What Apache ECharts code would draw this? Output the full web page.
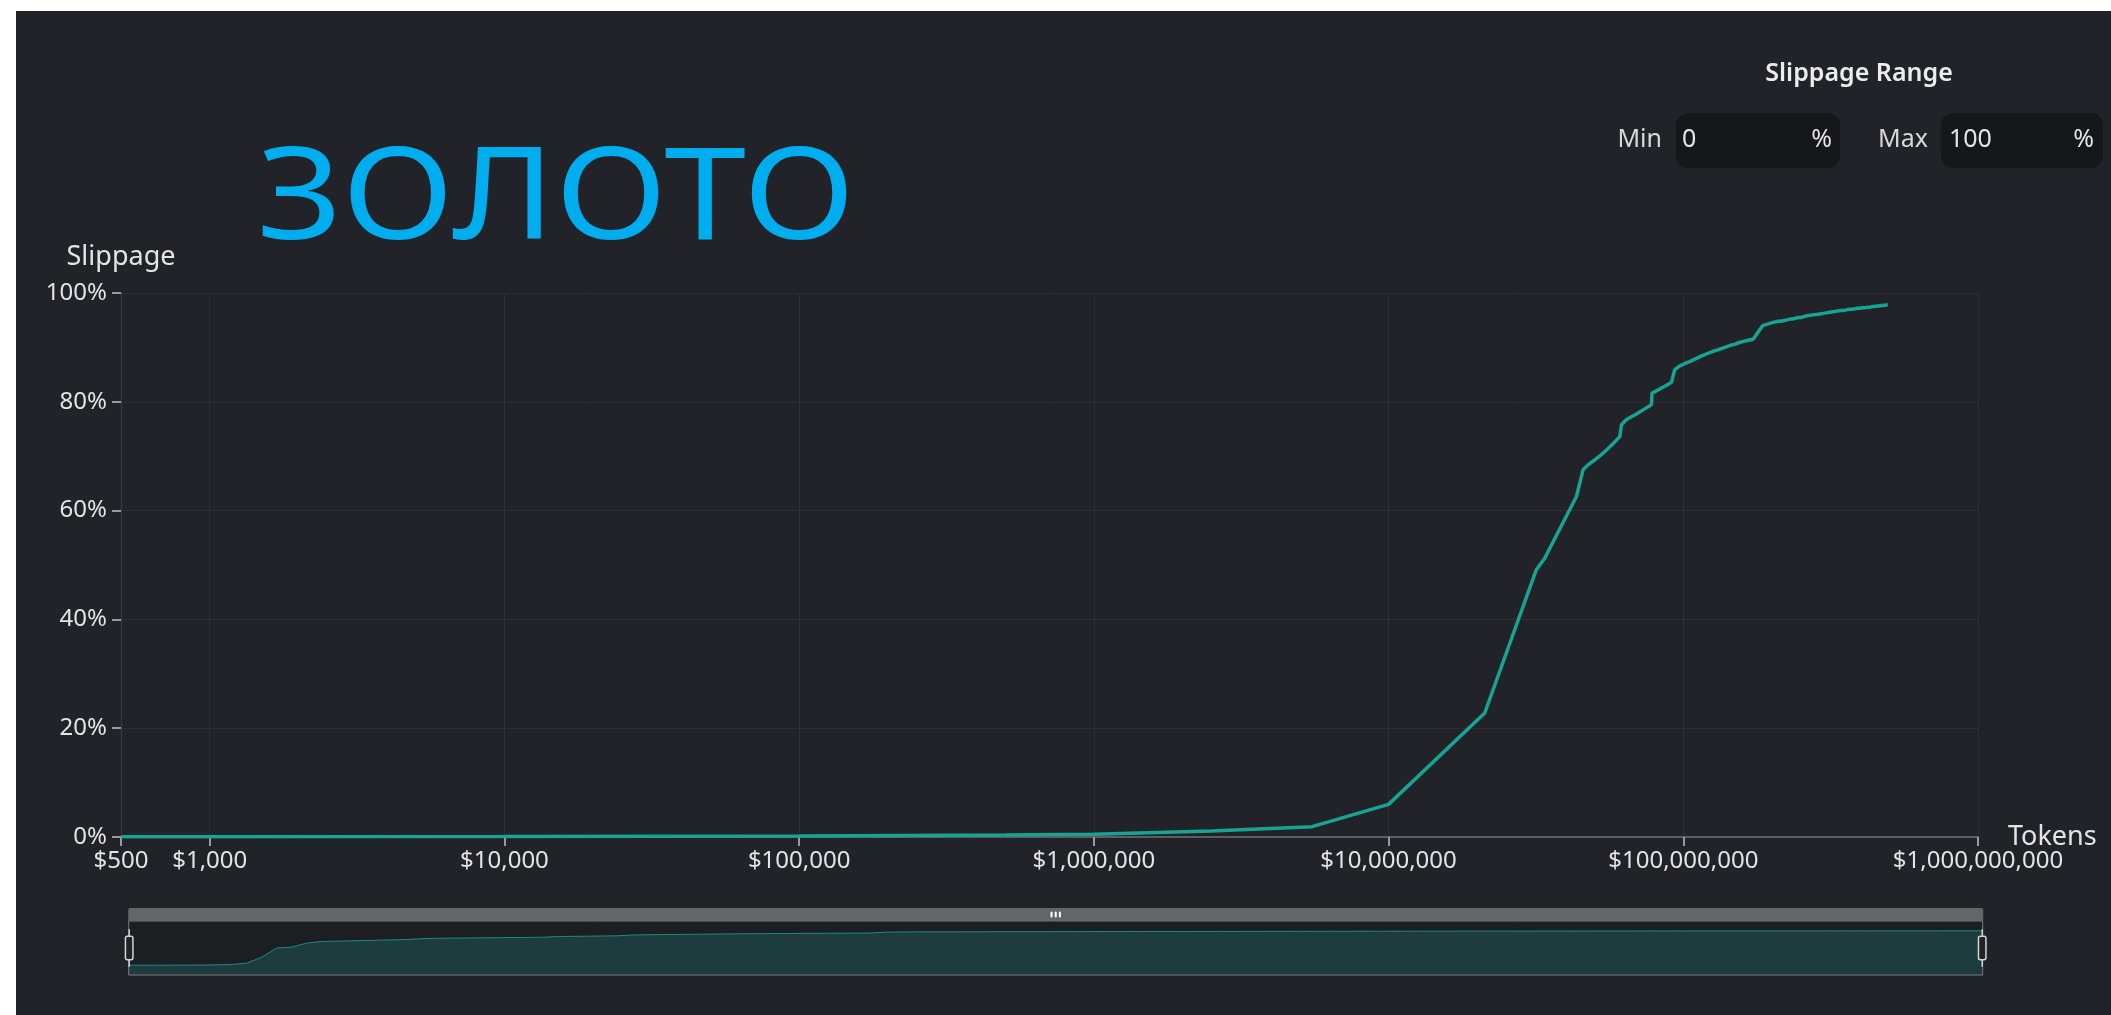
<!DOCTYPE html>
<html>
<head>
<meta charset="utf-8">
<title>ЗОЛОТО slippage</title>
<script src="https://cdn.jsdelivr.net/npm/echarts@6/dist/echarts.min.js"></script>
<style>
  html, body { margin: 0; padding: 0; background: #ffffff; width: 2111px; height: 1015px; overflow: hidden; }
  #chart { position: absolute; left: 16px; top: 11px; width: 2095px; height: 1004px; background: #222328; }
</style>
</head>
<body>
<div id="chart"></div>
<script>
// trade size in $ (x, log scale)
const tokens = [
  500, 1000, 10000, 100000, 500000, 1000000, 2500000, 5500000,
  10000000, 21200000, 31700000, 33900000, 43400000, 45700000, 47500000,
  50000000, 52500000, 55000000, 57500000, 60900000, 61700000, 64100000,
  66000000, 68000000, 70000000, 72000000, 74000000, 76000000, 78000000, 78300000,
  81000000, 84000000, 87500000, 91200000, 93500000, 97300000,
  101000000, 105000000, 110000000, 115000000, 120000000, 125000000, 130000000,
  135000000, 140000000, 145000000, 150000000, 155000000, 160000000, 166000000, 172600000,
  185800000, 201900000,
  206000000, 210000000, 214000000, 218000000, 222000000, 226000000, 230000000, 234000000,
  238000000, 242000000, 246000000, 250000000, 254000000, 258000000, 262000000, 266000000,
  270000000, 274000000, 278000000, 282000000, 286000000, 290000000, 294000000, 298000000,
  302000000, 306000000, 310000000, 314000000, 318000000, 322000000, 326000000, 330000000,
  334000000, 338000000, 342000000, 346000000, 350000000, 354000000, 358000000, 362000000,
  366000000, 370000000, 374000000, 378000000, 382000000, 386000000, 390000000, 394000000,
  398000000, 402000000, 406000000, 410000000, 414000000, 418000000, 422000000, 426000000,
  430000000, 434000000, 438000000, 442000000, 446000000, 450000000, 454000000, 458000000,
  462000000, 466000000, 470000000, 474000000, 478000000, 482000000, 486000000, 490000000,
  494000000
];

// slippage in %
const slippage = [
  0.05, 0.06, 0.1, 0.2, 0.35, 0.5, 1.1, 1.9,
  6.0, 22.8, 49.1, 51.3, 62.6, 67.5, 68.4,
  69.3, 70.2, 71.2, 72.2, 73.6, 75.8, 76.7,
  77.1, 77.5, 77.9, 78.3, 78.7, 79.1, 79.5, 81.6,
  82.0, 82.5, 83.0, 83.6, 85.9, 86.6,
  87.0, 87.4, 87.9, 88.4, 88.8, 89.2, 89.5,
  89.8, 90.1, 90.4, 90.6, 90.9, 91.1, 91.3, 91.5,
  94.0, 94.6,
  94.7, 94.8, 94.8, 94.9, 95.0, 95.1, 95.2, 95.2,
  95.3, 95.4, 95.5, 95.5, 95.6, 95.7, 95.8, 95.8,
  95.9, 95.9, 96.0, 96.0, 96.1, 96.1, 96.2, 96.2,
  96.3, 96.3, 96.4, 96.4, 96.5, 96.5, 96.6, 96.6,
  96.7, 96.7, 96.8, 96.8, 96.8, 96.9, 96.9, 96.9,
  97.0, 97.0, 97.0, 97.1, 97.1, 97.1, 97.2, 97.2,
  97.2, 97.3, 97.3, 97.3, 97.3, 97.4, 97.4, 97.4,
  97.4, 97.5, 97.5, 97.5, 97.5, 97.6, 97.6, 97.6,
  97.6, 97.7, 97.7, 97.7, 97.7, 97.7, 97.8, 97.8,
  97.8
];

const titleText = 'ЗОЛОТО';
const rangeTitle = 'Slippage Range';
const rangeMin = '0';
const rangeMax = '100';

const FONT = 'Noto Sans';
const LABEL = '#e4e4e6';
const GRID_LINE = '#2e2f35';

const chart = echarts.init(document.getElementById('chart'));

chart.setOption({
  backgroundColor: '#222328',
  animation: false,
  textStyle: { fontFamily: FONT },
  grid: { left: 105, right: 133, top: 282, bottom: 178, containLabel: false, outerBoundsMode: 'none' },
  xAxis: {
    type: 'log',
    logBase: 10,
    min: 500,
    max: 1000000000,
    name: 'Tokens',
    nameLocation: 'end',
    nameGap: 30,
    nameMoveOverlap: false,
    nameTextStyle: { color: LABEL, fontSize: 27, fontFamily: FONT },
    axisLine: { lineStyle: { color: '#5c5d63', width: 2 } },
    axisTick: { show: true, length: 9, lineStyle: { color: '#9a9a9e', width: 2 } },
    minorTick: { show: false },
    axisLabel: {
      color: LABEL, fontSize: 24, fontFamily: FONT, margin: 12,
      showMinLabel: true, showMaxLabel: true,
      formatter: v => '$' + Math.round(v).toLocaleString('en-US')
    },
    splitLine: { show: true, lineStyle: { color: GRID_LINE, width: 1 } }
  },
  yAxis: {
    type: 'value',
    min: 0,
    max: 100,
    interval: 20,
    name: 'Slippage',
    nameLocation: 'end',
    nameGap: 22,
    nameMoveOverlap: false,
    nameTextStyle: { color: LABEL, fontSize: 27, fontFamily: FONT },
    axisLine: { show: true, lineStyle: { color: '#3b3c42', width: 1 } },
    axisTick: { show: true, length: 9, lineStyle: { color: '#9a9a9e', width: 2 } },
    axisLabel: { color: LABEL, fontSize: 24, fontFamily: FONT, margin: 14, formatter: '{value}%' },
    splitLine: { show: true, lineStyle: { color: GRID_LINE, width: 1 } }
  },
  dataZoom: [{
    type: 'slider',
    xAxisIndex: 0,
    filterMode: 'none',
    start: 0,
    end: 100,
    left: 107,
    right: 133,
    top: 897,
    height: 55,
    showDetail: false,
    brushSelect: true,
    showDataShadow: true,
    backgroundColor: '#1d1e22',
    borderColor: '#7a7b80',
    borderRadius: 0,
    fillerColor: 'rgba(0,0,0,0)',
    handleSize: '68%',
    handleStyle: { color: '#222328', borderColor: '#d4d4d6', borderWidth: 1.5 },
    moveHandleSize: 13,
    moveHandleStyle: { color: '#646569', opacity: 1 },
    dataBackground: {
      lineStyle: { color: '#1a8c80', width: 1, opacity: 1 },
      areaStyle: { color: '#1e3b3e', opacity: 1 }
    },
    selectedDataBackground: {
      lineStyle: { color: '#1a8c80', width: 1, opacity: 1 },
      areaStyle: { color: '#1e3b3e', opacity: 1 }
    }
  }],
  series: [{
    type: 'line',
    data: tokens.map((t, i) => [t, slippage[i]]),
    showSymbol: false,
    smooth: false,
    lineStyle: { color: '#17a492', width: 3.5 },
    itemStyle: { color: '#17a492' }
  }],
  graphic: [
    // big title
    { type: 'text', x: 540, y: 192, scaleX: 1.15, silent: true,
      style: { text: titleText, fill: '#00aeef', fontSize: 128, fontFamily: FONT, align: 'center', verticalAlign: 'middle' } },
    // slippage range panel
    { type: 'text', x: 1843, y: 63, silent: true,
      style: { text: rangeTitle, fill: '#ececee', fontSize: 25, fontWeight: 600, fontFamily: FONT, align: 'center', verticalAlign: 'middle' } },
    { type: 'rect', silent: true, shape: { x: 1660, y: 102, width: 164, height: 55, r: 12 }, style: { fill: '#16171b' } },
    { type: 'rect', silent: true, shape: { x: 1925, y: 102, width: 162, height: 55, r: 12 }, style: { fill: '#16171b' } },
    { type: 'text', x: 1646, y: 129, silent: true,
      style: { text: 'Min', fill: '#d8d8da', fontSize: 25, fontFamily: FONT, align: 'right', verticalAlign: 'middle' } },
    { type: 'text', x: 1666, y: 129, silent: true,
      style: { text: rangeMin, fill: '#e4e4e6', fontSize: 25, fontFamily: FONT, align: 'left', verticalAlign: 'middle' } },
    { type: 'text', x: 1816, y: 129, silent: true,
      style: { text: '%', fill: '#e4e4e6', fontSize: 25, fontFamily: FONT, align: 'right', verticalAlign: 'middle' } },
    { type: 'text', x: 1912, y: 129, silent: true,
      style: { text: 'Max', fill: '#d8d8da', fontSize: 25, fontFamily: FONT, align: 'right', verticalAlign: 'middle' } },
    { type: 'text', x: 1933, y: 129, silent: true,
      style: { text: rangeMax, fill: '#e4e4e6', fontSize: 25, fontFamily: FONT, align: 'left', verticalAlign: 'middle' } },
    { type: 'text', x: 2078, y: 129, silent: true,
      style: { text: '%', fill: '#e4e4e6', fontSize: 25, fontFamily: FONT, align: 'right', verticalAlign: 'middle' } }
  ]
});
</script>
</body>
</html>
